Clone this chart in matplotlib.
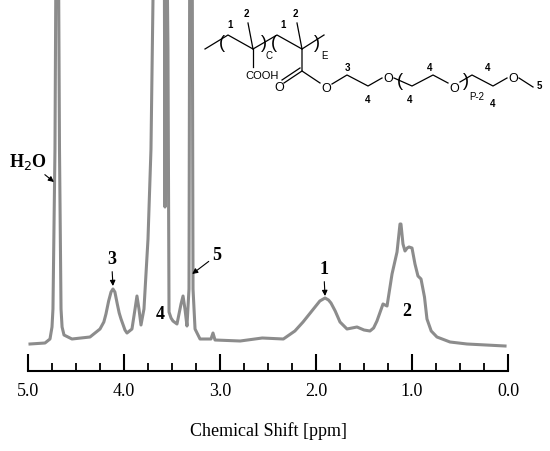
import matplotlib.pyplot as plt
from matplotlib.ticker import MultipleLocator

# traced spectrum: chemical shift (ppm) and intensity (arbitrary, baseline ~0)
ppm = [4.979, 4.823, 4.771, 4.750, 4.740, 4.719, 4.703, 4.688, 4.672, 4.656,
       4.645, 4.625, 4.542, 4.354, 4.25, 4.21, 4.188, 4.16, 4.135, 4.115,
       4.095, 4.07, 4.05, 4.031, 3.99, 3.969, 3.917, 3.885, 3.865, 3.844,
       3.823, 3.792, 3.75, 3.719, 3.698, 3.677, 3.625, 3.583, 3.573, 3.563,
       3.542, 3.531, 3.51, 3.490, 3.448, 3.406, 3.385, 3.365, 3.344, 3.323,
       3.313, 3.292, 3.281, 3.26, 3.208, 3.094, 3.073, 3.052, 2.79, 2.56,
       2.34, 2.22, 2.135, 2.06, 2.01, 1.96, 1.906, 1.87, 1.844, 1.80,
       1.75, 1.677, 1.573, 1.50, 1.438, 1.40, 1.365, 1.302, 1.26, 1.208,
       1.156, 1.125, 1.115, 1.094, 1.073, 1.05, 1.031, 1.0, 0.969, 0.938,
       0.906, 0.87, 0.844, 0.80, 0.74, 0.604, 0.427, 0.031]
intensity = [5, 6, 10, 22, 40, 200, 500, 500, 200, 40,
             22, 14, 10, 12, 20, 27, 35, 48, 57, 60,
             57, 45, 36, 30, 19, 16, 20, 40, 53, 40,
             24, 40, 110, 200, 350, 500, 500, 500, 142, 500,
             300, 37, 31, 28, 25, 45, 53, 40, 23, 60,
             500, 500, 60, 20, 10, 10, 16, 9, 8, 11,
             10, 18, 27, 36, 42, 48, 51, 49, 46, 38,
             27, 20, 22, 19, 18, 21, 28, 45, 43, 75,
             97, 125, 125, 105, 98, 101, 102, 101, 85, 73,
             70, 52, 30, 18, 12, 7, 5, 3]

# peak labels: text, text position (ppm, y), arrow tip or None
labels = [
    ("H$_2$O", 5.0, 188, (4.73, 167)),
    ("3", 4.13, 90, (4.115, 63)),
    ("4", 3.625, 35, None),
    ("5", 3.03, 94, (3.29, 75)),
    ("1", 1.92, 80, (1.906, 53)),
    ("2", 1.05, 38, None),
]

SERIF = "Liberation Serif"

fig = plt.figure(figsize=(5.5, 4.52), dpi=100)
ax = fig.add_axes([28 / 550, 1 - 372 / 452, 480 / 550, 372 / 452])
ax.plot(ppm, intensity, color="#8c8c8c", lw=2.2, solid_joinstyle="round")
ax.set_xlim(5.0, 0.0)
ax.set_ylim(-22, 350)
for s in ("top", "left", "right"):
    ax.spines[s].set_visible(False)
ax.spines["bottom"].set_linewidth(1.5)
ax.set_yticks([])
ax.xaxis.set_major_locator(MultipleLocator(1.0))
ax.xaxis.set_minor_locator(MultipleLocator(0.25))
ax.tick_params(axis="x", which="major", direction="in", length=12, width=1.5,
               pad=8, labelsize=13)
ax.tick_params(axis="x", which="minor", direction="in", length=6, width=1.3)
ax.set_xticklabels([f"{v:.1f}" for v in ax.get_xticks()], family=SERIF)
ax.set_xlabel("Chemical Shift [ppm]", family=SERIF, fontsize=13, labelpad=16)

for txt, x, y, tip in labels:
    if tip is None:
        ax.text(x, y, txt, family=SERIF, fontsize=13, fontweight="bold",
                ha="center", va="center")
    else:
        ax.annotate(txt, xy=tip, xytext=(x, y), family=SERIF, fontsize=13,
                    fontweight="bold", ha="center", va="center",
                    arrowprops=dict(arrowstyle="-|>", color="black", lw=0.8,
                                    mutation_scale=8, shrinkA=1, shrinkB=0))

# chemical structure, drawn in pixel coordinates of the inset
st = fig.add_axes([200 / 550, 1 - 110 / 452, 350 / 550, 110 / 452])
st.set_xlim(0, 350)
st.set_ylim(110, 0)
st.axis("off")
bonds = [
    [(5, 50), (28, 36), (53, 50), (77, 36), (102, 50), (124, 36)],
    [(53, 50), (48, 24)], [(102, 50), (97, 24)],
    [(53, 50), (53, 68)],
    [(102, 50), (102, 72), (120, 84)],
    [(102, 72), (84, 84)], [(100, 69), (82, 81)],
    [(132, 85), (147, 76), (168, 87), (182, 79)],
    [(194, 79), (212, 87), (233, 76), (248, 84)],
    [(260, 83), (272, 76), (293, 87), (307, 79)],
    [(319, 79), (333, 88)],
]
for b in bonds:
    xs, ys = zip(*b)
    st.plot(xs, ys, color="black", lw=0.9)
SANS = "Liberation Sans"
parts = [
    ("(", 22, 43, 13), (")", 64, 43, 13), ("(", 74, 43, 13), (")", 117, 43, 13),
    ("(", 200, 81, 13), (")", 266, 81, 13),
    ("O", 79, 88, 9), ("O", 126, 89, 9), ("O", 188, 79, 9), ("O", 254, 89, 9),
    ("O", 313, 79, 9), ("COOH", 62, 76, 8),
    ("1", 30, 25, 7), ("2", 46, 14, 7), ("C", 69, 56, 7), ("1", 83, 25, 7),
    ("2", 95, 14, 7), ("E", 124, 56, 7), ("3", 147, 68, 7), ("4", 168, 100, 7),
    ("4", 210, 100, 7), ("4", 230, 68, 7), ("4", 288, 68, 7), ("4", 293, 104, 7),
    ("P-2", 277, 97, 7), ("5", 339, 86, 7),
]
for t, x, y, fs in parts:
    st.text(x, y, t, family=SANS, fontsize=fs, ha="center", va="center",
            fontweight="bold" if t in "12345" and len(t) == 1 else "normal")

fig.savefig("out.png", dpi=100)
